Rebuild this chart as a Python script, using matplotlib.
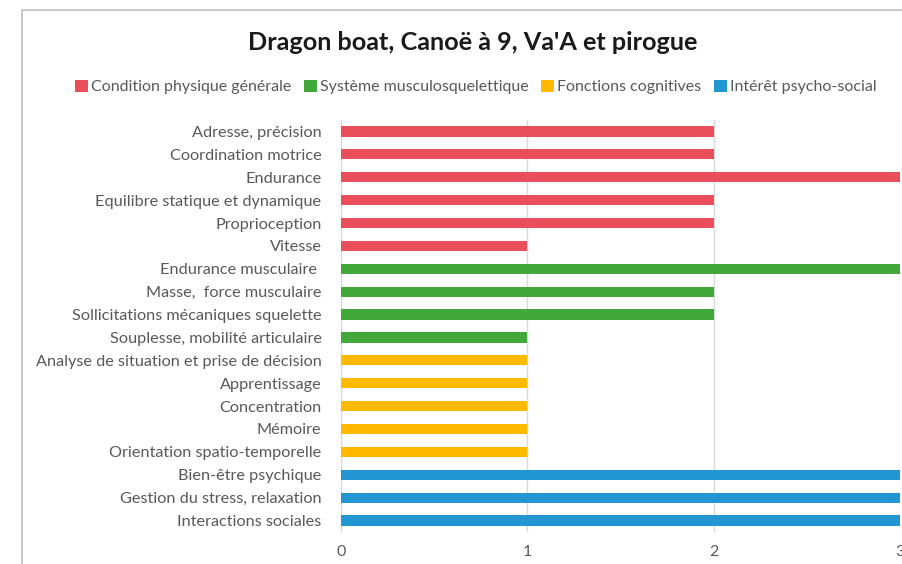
import matplotlib.pyplot as plt
from matplotlib.patches import Patch, Rectangle

categories = [
    "Adresse, précision",
    "Coordination motrice",
    "Endurance",
    "Equilibre statique et dynamique",
    "Proprioception",
    "Vitesse",
    "Endurance musculaire ",
    "Masse,  force musculaire",
    "Sollicitations mécaniques squelette",
    "Souplesse, mobilité articulaire",
    "Analyse de situation et prise de décision",
    "Apprentissage",
    "Concentration",
    "Mémoire",
    "Orientation spatio-temporelle",
    "Bien-être psychique",
    "Gestion du stress, relaxation",
    "Interactions sociales",
]
values = [2, 2, 3, 2, 2, 1, 3, 2, 2, 1, 1, 1, 1, 1, 1, 3, 3, 3]
groups = [0] * 6 + [1] * 4 + [2] * 5 + [3] * 3
group_names = [
    "Condition physique générale",
    "Système musculosquelettique",
    "Fonctions cognitives",
    "Intérêt psycho-social",
]
group_colors = ["#E94F5B", "#43A83A", "#FFB900", "#2196D3"]

plt.rcParams["font.family"] = ["Lato", "DejaVu Sans"]

fig = plt.figure(figsize=(9.02, 5.64), dpi=100)
ax = fig.add_axes([341 / 902, 1 - 532 / 564, (900 - 341) / 902, (532 - 120) / 564])

colors = [group_colors[g] for g in groups]
ax.barh(range(len(categories)), values, height=0.45, color=colors, zorder=3)
ax.set_yticks(range(len(categories)))
ax.set_yticklabels(categories, fontsize=11.7, color="#595959")
ax.set_ylim(len(categories) - 0.5, -0.5)
ax.set_xlim(0, 3)
ax.set_xticks([0, 1, 2, 3])
ax.tick_params(axis="x", labelsize=11.5, colors="#595959", length=0, pad=9)
ax.tick_params(axis="y", length=0, pad=14)
ax.grid(axis="x", color="#D9D9D9", linewidth=1, zorder=0)
for side in ["top", "right", "bottom"]:
    ax.spines[side].set_visible(False)
ax.spines["left"].set_color("#D9D9D9")

fig.suptitle("Dragon boat, Canoë à 9, Va'A et pirogue", x=473 / 902, y=1 - 42 / 564,
             va="center", fontsize=18.2, fontweight="bold", color="#1a1a1a")

handles = [Patch(facecolor=c, label=n) for c, n in zip(group_colors, group_names)]
fig.legend(handles=handles, loc="center", bbox_to_anchor=(476 / 902, 1 - 87 / 564),
           ncol=4, frameon=False, fontsize=11.5, labelcolor="#595959",
           handlelength=0.8, handleheight=0.8, handletextpad=0.2, columnspacing=0.8)

# outer chart frame, cut off by the picture edge
fig.patches.append(Rectangle((22 / 902, -0.1), 1.0, 1.1 - 10 / 564,
                             transform=fig.transFigure, fill=False,
                             edgecolor="#BFBFBF", linewidth=1.2))

fig.savefig("out.png", dpi=100)
